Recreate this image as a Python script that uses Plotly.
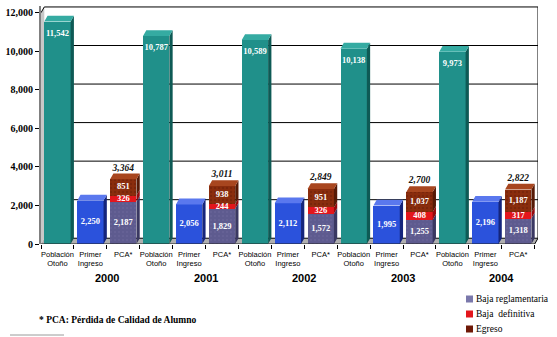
import plotly.graph_objects as go

# ---- data -------------------------------------------------------------
years = ["2000", "2001", "2002", "2003", "2004"]
category_labels = ["Población<br>Otoño", "Primer<br>Ingreso", "PCA*"]
poblacion_otono = [11542, 10787, 10589, 10138, 9973]
primer_ingreso = [2250, 2056, 2112, 1995, 2196]
baja_reglamentaria = [2187, 1829, 1572, 1255, 1318]
baja_definitiva = [326, 244, 326, 408, 317]
egreso = [851, 938, 951, 1037, 1187]
pca_total = [3364, 3011, 2849, 2700, 2822]
y_ticks = [0, 2000, 4000, 6000, 8000, 10000, 12000]
legend_names = ["Baja reglamentaria", "Baja  definitiva", "Egreso"]

# ---- geometry ---------------------------------------------------------
W, H = 557, 337
ML, MR, MT, MB = 41, 19, 6, 93
PW, PH = W - ML - MR, H - MT - MB
Y_MAX = 12350
U = Y_MAX / PH          # value units per pixel
HALF = 0.4              # half bar width (category units)
DX = 0.1                # depth offset, category units
DY = 300                # depth offset, value units

SANS = "Liberation Sans Narrow, Liberation Sans, Arial"
SERIF = "Liberation Serif"

COL = {
    "teal": ("#20908a", "#0e5a55", "#35aba2"),
    "blue": ("#2b52dc", "#15257c", "#5a78ee"),
    "regl": ("#5e5b8f", "#3a3862", "#7a78ab"),
    "def": ("#e3161c", "#93090d", "#f04a4e"),
    "egr": ("#8a2d0d", "#561a06", "#a8461f"),
}


def fmt(v):
    return f"{v:,}"


def paper_x(px):
    return (px - ML) / PW


def paper_y(py):
    return (H - MB - py) / PH


n = len(years)
x_pob = [3 * i for i in range(n)]
x_pri = [3 * i + 1 for i in range(n)]
x_pca = [3 * i + 2 for i in range(n)]

base_def = baja_reglamentaria
base_egr = [a + b for a, b in zip(baja_reglamentaria, baja_definitiva)]
top_pca = [a + b for a, b in zip(base_egr, egreso)]


def side_faces(xs, lows, highs):
    fx, fy = [], []
    for x, lo, hi in zip(xs, lows, highs):
        r = x + HALF
        fx += [r, r + DX, r + DX, r, r, None]
        fy += [lo, lo + DY, hi + DY, hi, lo, None]
    return fx, fy


def top_faces(xs, tops):
    fx, fy = [], []
    for x, t in zip(xs, tops):
        fx += [x - HALF, x + HALF, x + HALF + DX, x - HALF + DX, x - HALF, None]
        fy += [t, t, t + DY, t + DY, t, None]
    return fx, fy


def face(xy, color):
    return go.Scatter(x=xy[0], y=xy[1], mode="lines", fill="toself",
                      fillcolor=color, line=dict(width=0),
                      hoverinfo="skip", showlegend=False)


fig = go.Figure()

# front faces
fig.add_bar(x=x_pob, y=poblacion_otono, width=2 * HALF, name="Población Otoño",
            marker=dict(color=COL["teal"][0], line=dict(width=0)), showlegend=False)
fig.add_bar(x=x_pri, y=primer_ingreso, width=2 * HALF, name="Primer Ingreso",
            marker=dict(color=COL["blue"][0], line=dict(width=0)), showlegend=False)
fig.add_bar(x=x_pca, y=baja_reglamentaria, width=2 * HALF, name=legend_names[0],
            marker=dict(color=COL["regl"][0], line=dict(width=0),
                        pattern=dict(shape=".", fgcolor="#6d6a9f", size=4, solidity=0.2)),
            showlegend=False)
fig.add_bar(x=x_pca, y=baja_definitiva, width=2 * HALF, name=legend_names[1],
            marker=dict(color=COL["def"][0], line=dict(width=0)), showlegend=False)
fig.add_bar(x=x_pca, y=egreso, width=2 * HALF, name=legend_names[2],
            marker=dict(color=COL["egr"][0], line=dict(width=0),
                        pattern=dict(shape=".", fgcolor="#6a1e07", size=4, solidity=0.3)),
            showlegend=False)

# depth faces
fig.add_trace(face(side_faces(x_pob, [0] * n, poblacion_otono), COL["teal"][1]))
fig.add_trace(face(top_faces(x_pob, poblacion_otono), COL["teal"][2]))
fig.add_trace(face(side_faces(x_pri, [0] * n, primer_ingreso), COL["blue"][1]))
fig.add_trace(face(top_faces(x_pri, primer_ingreso), COL["blue"][2]))
fig.add_trace(face(side_faces(x_pca, [0] * n, baja_reglamentaria), COL["regl"][1]))
fig.add_trace(face(side_faces(x_pca, base_def, base_egr), COL["def"][1]))
fig.add_trace(face(side_faces(x_pca, base_egr, top_pca), COL["egr"][1]))
fig.add_trace(face(top_faces(x_pca, top_pca), COL["egr"][2]))

# value labels
white = dict(family=SERIF, size=8.5, color="white", weight="bold")
fig.add_trace(go.Scatter(x=x_pob, y=[v - 12 * U for v in poblacion_otono],
                         text=[fmt(v) for v in poblacion_otono], mode="text",
                         textfont=white, hoverinfo="skip", showlegend=False))
fig.add_trace(go.Scatter(x=x_pri, y=[v / 2 for v in primer_ingreso],
                         text=[fmt(v) for v in primer_ingreso], mode="text",
                         textfont=white, hoverinfo="skip", showlegend=False))
fig.add_trace(go.Scatter(x=x_pca, y=[v / 2 for v in baja_reglamentaria],
                         text=[fmt(v) for v in baja_reglamentaria], mode="text",
                         textfont=white, hoverinfo="skip", showlegend=False))
fig.add_trace(go.Scatter(x=x_pca, y=[b + v / 2 for b, v in zip(base_def, baja_definitiva)],
                         text=[fmt(v) for v in baja_definitiva], mode="text",
                         textfont=white, hoverinfo="skip", showlegend=False))
fig.add_trace(go.Scatter(x=x_pca, y=[b + v / 2 for b, v in zip(base_egr, egreso)],
                         text=[fmt(v) for v in egreso], mode="text",
                         textfont=white, hoverinfo="skip", showlegend=False))
fig.add_trace(go.Scatter(x=x_pca, y=[v + 11 * U for v in pca_total],
                         text=[fmt(v) for v in pca_total], mode="text",
                         textfont=dict(family=SERIF, size=9.5, color="#111111",
                                       weight="bold", style="italic"),
                         hoverinfo="skip", showlegend=False, cliponaxis=False))

# carrier for the category-boundary tick marks
fig.add_trace(go.Scatter(x=[0], y=[0], xaxis="x2", mode="markers",
                         marker=dict(opacity=0), hoverinfo="skip", showlegend=False))

# ---- walls, floor and back-wall grid -----------------------------------
x_lo, x_hi = -0.5, 3 * n - 0.5
shapes = [
    dict(type="path", xref="x", yref="y", layer="below",
         path=f"M{x_lo},0 L{x_lo + DX},{DY} L{x_lo + DX},{y_ticks[-1] + DY} L{x_lo},{y_ticks[-1]} Z",
         fillcolor="#c8c8c8", line=dict(width=0)),
    dict(type="path", xref="x", yref="y", layer="below",
         path=f"M{x_lo},0 L{x_hi},0 L{x_hi + DX},{DY} L{x_lo + DX},{DY} Z",
         fillcolor="#b0b0b0", line=dict(width=0)),
]
for v in y_ticks:
    shapes.append(dict(type="line", xref="x", yref="y", layer="below",
                       x0=x_lo + DX, x1=x_hi + DX, y0=v + DY, y1=v + DY,
                       line=dict(color="black", width=1)))
shapes += [
    dict(type="line", xref="x", yref="y", x0=x_hi + DX, x1=x_hi + DX,
         y0=DY, y1=y_ticks[-1] + DY, line=dict(color="black", width=1)),
    dict(type="line", xref="x", yref="y", x0=x_hi, x1=x_hi + DX,
         y0=0, y1=DY, line=dict(color="black", width=1)),
    dict(type="line", xref="x", yref="y", x0=x_lo, x1=x_hi,
         y0=0, y1=0, line=dict(color="#222222", width=1.2)),
    dict(type="line", xref="x", yref="y", x0=x_lo, x1=x_lo + DX,
         y0=y_ticks[-1], y1=y_ticks[-1] + DY, line=dict(color="black", width=1)),
    # short rule under the footnote
    dict(type="line", xref="paper", yref="paper", x0=paper_x(10), x1=paper_x(64),
         y0=paper_y(335), y1=paper_y(335), line=dict(color="#9a9a9a", width=1)),
]

# legend swatches
legend_cols = [COL["regl"][2], COL["def"][0], "#6e1806"]
legend_rows = [299, 314, 329]
for c, row in zip(legend_cols, legend_rows):
    shapes.append(dict(type="rect", xref="paper", yref="paper",
                       x0=paper_x(466), x1=paper_x(473),
                       y0=paper_y(row + 3.5), y1=paper_y(row - 3.5),
                       fillcolor=c, line=dict(width=0)))

annotations = []
for i, yr in enumerate(years):
    annotations.append(dict(x=3 * i + 1.5, xref="x", y=paper_y(278), yref="paper",
                            yanchor="middle", text=f"<b>{yr}</b>", showarrow=False,
                            font=dict(family=SANS, size=11, color="black")))
for name, row in zip(legend_names, legend_rows):
    annotations.append(dict(x=paper_x(473.5), xref="paper", y=paper_y(row), yref="paper",
                            xanchor="left", yanchor="middle", text=name.replace("  ", "&nbsp; "),
                            showarrow=False,
                            font=dict(family=SERIF, size=9.5, color="black")))
annotations.append(dict(x=paper_x(37), xref="paper", y=paper_y(320), yref="paper",
                        xanchor="left", yanchor="middle",
                        text="<b>* PCA: Pérdida de Calidad de Alumno</b>",
                        showarrow=False, font=dict(family=SERIF, size=9.5, color="black")))

fig.update_layout(
    width=W, height=H,
    margin=dict(l=ML, r=MR, t=MT, b=MB),
    paper_bgcolor="white", plot_bgcolor="white",
    barmode="stack",
    showlegend=False,
    shapes=shapes,
    annotations=annotations,
    xaxis=dict(range=[x_lo, x_hi + DX], tickmode="array",
               tickvals=list(range(3 * n)), ticktext=category_labels * n,
               ticks="", ticklabelstandoff=4, showgrid=False, zeroline=False,
               showline=False,
               tickfont=dict(family=SANS, size=7.5, color="black")),
    xaxis2=dict(overlaying="x", matches="x", anchor="y", side="bottom",
                tickmode="array", tickvals=[i - 0.5 for i in range(3 * n + 1)],
                ticks="outside", ticklen=4, tickcolor="black", tickwidth=1,
                showticklabels=False, showgrid=False, zeroline=False, showline=False),
    yaxis=dict(range=[0, Y_MAX], tickmode="array", tickvals=y_ticks,
               ticktext=[fmt(v) for v in y_ticks], ticks="outside", ticklen=4,
               tickcolor="black", showline=True, linecolor="#808080", linewidth=2,
               showgrid=False, zeroline=False,
               tickfont=dict(family=SERIF, size=10, color="black", weight="bold")),
)

fig.write_html("out.html")
